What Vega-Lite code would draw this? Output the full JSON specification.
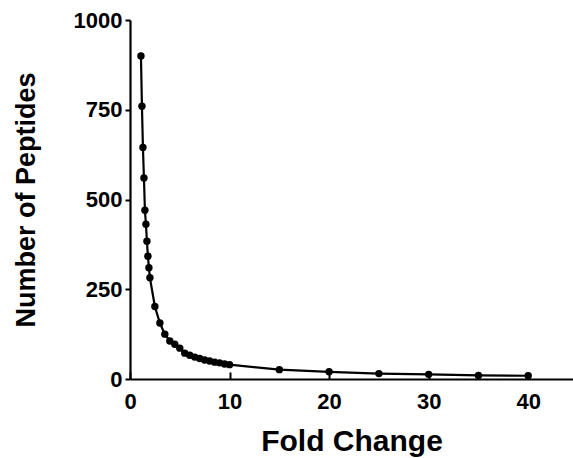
{
  "$schema": "https://vega.github.io/schema/vega-lite/v6.json",
  "autosize": "none",
  "width": 443,
  "height": 359,
  "padding": {"left": 130, "top": 20, "right": 0, "bottom": 79},
  "background": "white",
  "config": {
    "view": {"stroke": null},
    "font": "Liberation Sans",
    "axis": {"grid": false, "domainColor": "black", "domainWidth": 2.2, "tickColor": "black", "tickWidth": 2, "labelColor": "black", "titleColor": "black", "labelFont": "Liberation Sans", "titleFont": "Liberation Sans", "labelFontWeight": "bold", "titleFontWeight": "bold", "labelFontSize": 22, "titleFontSize": 27}
  },
  "data": {"values": [
    {"fold": 1.1, "peptides": 900},
    {"fold": 1.2, "peptides": 760},
    {"fold": 1.3, "peptides": 645},
    {"fold": 1.4, "peptides": 560},
    {"fold": 1.5, "peptides": 470},
    {"fold": 1.6, "peptides": 431},
    {"fold": 1.7, "peptides": 384},
    {"fold": 1.8, "peptides": 342},
    {"fold": 1.9, "peptides": 310},
    {"fold": 2.0, "peptides": 282},
    {"fold": 2.5, "peptides": 202},
    {"fold": 3.0, "peptides": 156},
    {"fold": 3.5, "peptides": 125},
    {"fold": 4.0, "peptides": 106},
    {"fold": 4.5, "peptides": 97},
    {"fold": 5.0, "peptides": 86},
    {"fold": 5.5, "peptides": 72},
    {"fold": 6.0, "peptides": 66},
    {"fold": 6.5, "peptides": 61},
    {"fold": 7.0, "peptides": 57},
    {"fold": 7.5, "peptides": 53},
    {"fold": 8.0, "peptides": 50},
    {"fold": 8.5, "peptides": 47},
    {"fold": 9.0, "peptides": 45},
    {"fold": 9.5, "peptides": 42},
    {"fold": 10, "peptides": 40},
    {"fold": 15, "peptides": 26},
    {"fold": 20, "peptides": 20},
    {"fold": 25, "peptides": 15},
    {"fold": 30, "peptides": 13},
    {"fold": 35, "peptides": 10},
    {"fold": 40, "peptides": 9}
  ]},
  "encoding": {
    "x": {"field": "fold", "type": "quantitative", "title": "Fold Change",
          "scale": {"domain": [0, 44.5], "nice": false, "zero": true},
          "axis": {"values": [0, 10, 20, 30, 40], "format": "d", "tickSize": -7, "labelPadding": 19, "titlePadding": 14, "titleFontSize": 30, "labelFlush": false, "labelOverlap": false}},
    "y": {"field": "peptides", "type": "quantitative", "title": "Number of Peptides",
          "scale": {"domain": [0, 1000], "nice": false},
          "axis": {"values": [0, 250, 500, 750, 1000], "format": "d", "tickSize": 5, "labelPadding": 3, "titlePadding": 33, "labelFlush": false, "labelOverlap": false}}
  },
  "layer": [
    {"mark": {"type": "line", "color": "black", "strokeWidth": 2.2}},
    {"mark": {"type": "point", "filled": true, "color": "black", "opacity": 1, "size": 55}}
  ]
}
